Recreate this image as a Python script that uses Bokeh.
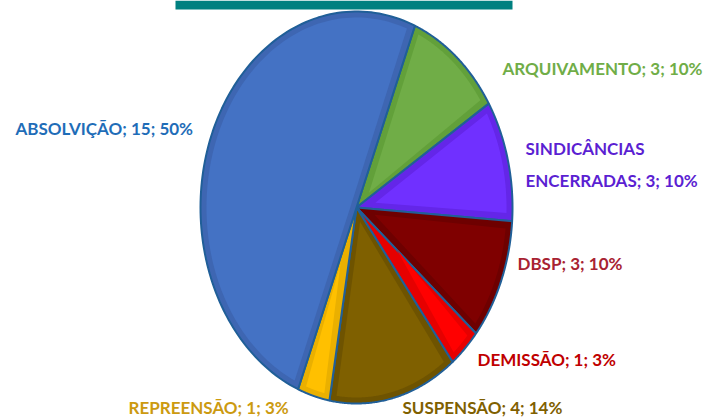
import numpy as np
from bokeh.plotting import figure
from bokeh.models import Range1d, ColumnDataSource
from bokeh.core.properties import value
from bokeh.embed import file_html
from bokeh.resources import INLINE

# ---- data ----
categories = ["ARQUIVAMENTO", "SINDICÂNCIAS ENCERRADAS", "DBSP", "DEMISSÃO",
              "SUSPENSÃO", "REPREENSÃO", "ABSOLVIÇÃO"]
counts = [3, 3, 3, 1, 4, 1, 15]
pct_labels = ["10%", "10%", "10%", "3%", "14%", "3%", "50%"]

# ---- styles ----
fill_colors = ["#70AD47", "#7030FF", "#7F0000", "#FF0000", "#7F6000", "#FFC000", "#4472C4"]
band_colors = ["#62A03A", "#6426E8", "#6E0000", "#E60000", "#6E5300", "#EAB000", "#3E66B2"]
label_colors = ["#70AD47", "#5B1FD2", "#A82232", "#C00000", "#7F6000", "#CC9A10", "#1F6DB8"]
outline_color = "#205F98"

# ---- layout (image pixel coordinates) ----
label_x = [502, 525, 517, 477, 402, 128, 15]
label_y = [68, 148, 263, 359, 407, 407, 128]
line_gap = 32
cx, cy, rx, ry = 356, 207, 156, 196
start_deg = 22.0
inset = 6.0
FONT = "Lato"

W, H = 709, 417
p = figure(width=W, height=H, x_range=Range1d(0, 709), y_range=Range1d(417, 0),
           output_backend="svg", toolbar_location=None, min_border=0)
p.axis.visible = False
p.grid.visible = False
p.outline_line_color = None
p.background_fill_color = "white"
p.border_fill_color = "white"

# teal banner at top
p.quad(left=[175], right=[512], bottom=[9], top=[0], fill_color="#008080", line_color=None)

total = float(sum(counts))
ang = start_deg + np.concatenate([[0], np.cumsum(counts)]) / total * 360.0

outer_xs, outer_ys, inner_xs, inner_ys = [], [], [], []
for i in range(len(counts)):
    a0, a1 = ang[i], ang[i + 1]
    t = np.radians(np.linspace(a0, a1, 120))
    ox = [cx] + list(cx + rx * np.sin(t))
    oy = [cy] + list(cy - ry * np.cos(t))
    outer_xs.append(ox)
    outer_ys.append(oy)
    half = np.radians(a1 - a0) / 2
    bis = np.radians((a0 + a1) / 2)
    d = min(inset / np.sin(half), 60.0)
    icx = cx + d * np.sin(bis)
    icy = cy - d * np.cos(bis)
    dl = np.degrees(inset / 175.0) * 1.2
    ti = np.radians(np.linspace(a0 + dl, a1 - dl, 120))
    ix = [icx] + list(cx + (rx - inset) * np.sin(ti))
    iy = [icy] + list(cy - (ry - inset) * np.cos(ti))
    inner_xs.append(ix)
    inner_ys.append(iy)

p.patches(outer_xs, outer_ys, fill_color=band_colors, line_color=outline_color,
          line_width=2)
p.patches(inner_xs, inner_ys, fill_color=fill_colors, line_color=None)

# labels
tx, ty, tt, tc = [], [], [], []
for i, cat in enumerate(categories):
    txt = f"{cat}; {counts[i]}; {pct_labels[i]}"
    lines = [txt]
    if cat.startswith("SINDIC"):
        first, rest = txt.split(" ", 1)
        lines = [first, rest]
    for j, ln in enumerate(lines):
        tx.append(label_x[i])
        ty.append(label_y[i] + j * line_gap)
        tt.append(ln)
        tc.append(label_colors[i])

src = ColumnDataSource(dict(x=tx, y=ty, text=tt, color=tc))
p.text(x="x", y="y", text="text", text_color="color", source=src,
       text_font=value(FONT), text_font_size="17px", text_font_style="bold",
       text_baseline="middle", text_align="left")

open("out.html", "w").write(file_html(p, INLINE))
